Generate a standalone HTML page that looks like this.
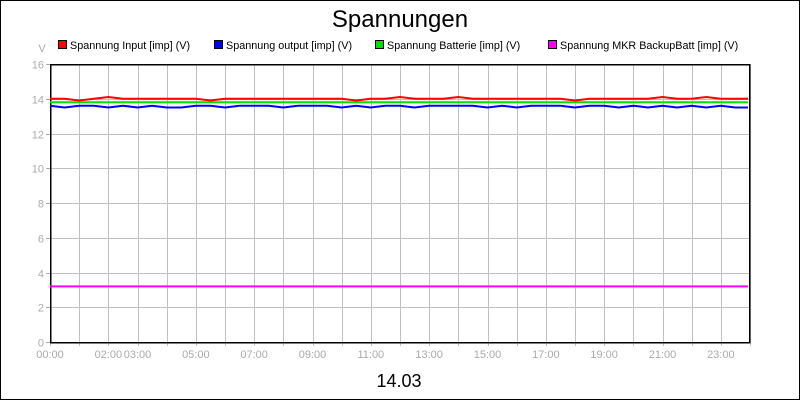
<!DOCTYPE html>
<html><head><meta charset="utf-8"><style>
body{margin:0;background:#fff}
svg{display:block;font-family:"Liberation Sans",sans-serif}
</style></head><body>
<svg id="c" width="800" height="400">
<rect x="0.5" y="0.5" width="799" height="399" fill="#fff" stroke="#000"/>
<text x="400" y="27" font-size="24" text-anchor="middle">Spannungen</text>
<text x="42" y="52" font-size="11" fill="#aaa" text-anchor="middle">V</text>
<text x="399" y="387" font-size="18" text-anchor="middle">14.03</text>
<g id="grid" shape-rendering="crispEdges"></g><g id="series"></g><g id="legend"></g>
</svg>
<script>
const categories=[];for(let i=0;i<48;i++)categories.push(i*0.5);
const seriesNames=["Spannung Input [imp] (V)","Spannung output [imp] (V)","Spannung Batterie [imp] (V)","Spannung MKR BackupBatt [imp] (V)"];
const seriesColors=["#ff0000","#0000ff","#00e000","#ff00ff"];
const inputValues=[14,14,13.9,14,14.1,14,14,14,14,14,14,13.9,14,14,14,14,14,14,14,14,14,13.9,14,14,14.1,14,14,14,14.1,14,14,14,14,14,14,14,13.9,14,14,14,14,14,14.1,14,14,14.1,14,14];
const outputValues=[13.6,13.5,13.6,13.6,13.5,13.6,13.5,13.6,13.5,13.5,13.6,13.6,13.5,13.6,13.6,13.6,13.5,13.6,13.6,13.6,13.5,13.6,13.5,13.6,13.6,13.5,13.6,13.6,13.6,13.6,13.5,13.6,13.5,13.6,13.6,13.6,13.5,13.6,13.6,13.5,13.6,13.5,13.6,13.5,13.6,13.5,13.6,13.5];
const batteryValues=[13.8,13.8,13.8,13.8,13.8,13.8,13.8,13.8,13.8,13.8,13.8,13.8,13.8,13.8,13.8,13.8,13.8,13.8,13.8,13.8,13.8,13.8,13.8,13.8,13.8,13.8,13.8,13.8,13.8,13.8,13.8,13.8,13.8,13.8,13.8,13.8,13.8,13.8,13.8,13.8,13.8,13.8,13.8,13.8,13.8,13.8,13.8,13.8];
const backupValues=[3.2,3.2,3.2,3.2,3.2,3.2,3.2,3.2,3.2,3.2,3.2,3.2,3.2,3.2,3.2,3.2,3.2,3.2,3.2,3.2,3.2,3.2,3.2,3.2,3.2,3.2,3.2,3.2,3.2,3.2,3.2,3.2,3.2,3.2,3.2,3.2,3.2,3.2,3.2,3.2,3.2,3.2,3.2,3.2,3.2,3.2,3.2,3.2];
const yTicks=[0,2,4,6,8,10,12,14,16];
const xTickHours=[0,1,2,3,4,5,6,7,8,9,10,11,12,13,14,15,16,17,18,19,20,21,22,23,24];
const xLabelHours=[0,2,3,5,7,9,11,13,15,17,19,21,23];
const X0=50,X1=750,Y0=342,Y1=64;
const xs=h=>X0+(X1-X0)*h/24;
const ys=v=>Y0-(Y0-Y1)*v/16;
const NS="http://www.w3.org/2000/svg";
function mk(tag,attrs,parent){const e=document.createElementNS(NS,tag);for(const k in attrs)e.setAttribute(k,attrs[k]);parent.appendChild(e);return e;}
const grid=document.getElementById('grid');
yTicks.forEach(v=>{const y=Math.round(ys(v))+0.5;
 const l=mk('line',{x1:X0,x2:X1,y1:y,y2:y,stroke:'#c0c0c0'},grid);
 
 
 mk('line',{x1:X0-4,x2:X0,y1:y,y2:y,stroke:'#aaa'},grid);
 const t=mk('text',{x:X0-6,y:y+4,'font-size':11,fill:'#aaa','text-anchor':'end'},grid);t.textContent=v;
 
 
});
xTickHours.forEach(h=>{const x=Math.round(xs(h))+0.5;
 const l=mk('line',{x1:x,x2:x,y1:Y1,y2:Y0+4,stroke:'#c0c0c0'},grid);
 
 
});
xLabelHours.forEach(h=>{const x=xs(h);
 const t=mk('text',{x:x,y:Y0+16,'font-size':11,fill:'#aaa','text-anchor':'middle'},grid);t.textContent=String(h).padStart(2,'0')+':00';
 
 
});
const fr=mk('rect',{x:X0+0.5,y:Y1+0.5,width:X1-X0-1,height:Y0-Y1,fill:'none',stroke:'#000','stroke-width':1.5},grid);


const sg=document.getElementById('series');
[backupValues,batteryValues,outputValues,inputValues].forEach((vals,k)=>{
 const idx=3-k;
 const pts=vals.map((v,i)=>xs(categories[i])+','+ys(v)).join(' ')+' '+(X1-2)+','+ys(vals[vals.length-1]);
 const p=mk('polyline',{points:pts,fill:'none',stroke:seriesColors[idx],'stroke-width':2},sg);
 
 
});
const lg=document.getElementById('legend');
const lx=[58,214,375,548];
seriesNames.forEach((n,i)=>{
 const g=mk('g',{},lg);
 
 
 mk('rect',{x:lx[i]+0.5,y:40.5,width:8,height:8,fill:seriesColors[i],stroke:'#000'},g);
 const t=mk('text',{x:lx[i]+12,y:49,'font-size':10.8},g);t.textContent=n;
});
</script>
</body></html>
